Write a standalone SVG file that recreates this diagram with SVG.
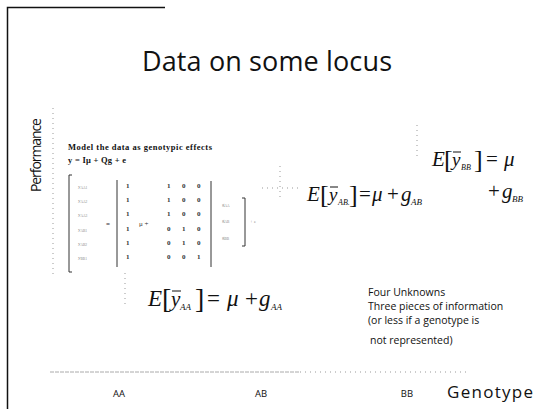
<svg xmlns="http://www.w3.org/2000/svg" width="536" height="409" viewBox="0 0 536 409">
<style>
.sans{font-family:"Open Sans","Liberation Sans",sans-serif;fill:#111}
.serif{font-family:"Liberation Serif","DejaVu Serif",serif;fill:#111}
.it{font-style:italic}
.mat{font-family:"Liberation Serif",serif;font-size:7px;fill:#333;font-weight:bold}
.tiny{font-family:"Liberation Serif",serif;font-size:5px;fill:#888}
.dots{stroke:#999;stroke-width:1;stroke-dasharray:1 4;fill:none}
.brk{stroke:#333;stroke-width:1;fill:none}
.ovl{stroke:#111;stroke-width:1}
</style>
<rect width="536" height="409" fill="#fff"/>
<g id="connectors">
  <path d="M7.5,409 V7.5 H165" stroke="#111" stroke-width="1.5" fill="none"/>
  <line class="dots" x1="53" y1="108" x2="53" y2="276"/>
  <line x1="50" y1="372" x2="300" y2="372" stroke="#aaa" stroke-width="1" stroke-dasharray="4 1"/>
  <line class="dots" x1="300" y1="372" x2="467" y2="372"/>
  <line class="dots" x1="280" y1="166" x2="280" y2="200"/>
  <line class="dots" x1="262" y1="188" x2="300" y2="188"/>
  <line class="dots" x1="417" y1="125" x2="417" y2="158"/>
  <line class="dots" x1="125" y1="273" x2="125" y2="308"/>
</g>
<g id="title"><text class="sans" x="267" y="71" font-size="27" text-anchor="middle" textLength="250">Data on some locus</text></g>
<g id="y-label"><text class="sans" transform="translate(41,192) rotate(-90)" font-size="14" textLength="74">Performance</text></g>
<g id="model">
  <text class="serif" x="68" y="150" font-size="8.5" font-weight="bold" textLength="144">Model the data as genotypic effects</text>
  <text class="serif" x="68" y="163" font-size="8.5" font-weight="bold" textLength="58">y = Iμ + Qg + e</text>
  <path class="brk" d="M72,175 H69 V272 H72"/>
  <g class="tiny">
    <text x="78" y="188">y<tspan font-size="3.5" dy="1">AA1</tspan></text>
    <text x="78" y="202">y<tspan font-size="3.5" dy="1">AA2</tspan></text>
    <text x="78" y="216">y<tspan font-size="3.5" dy="1">AA3</tspan></text>
    <text x="78" y="231">y<tspan font-size="3.5" dy="1">AB1</tspan></text>
    <text x="78" y="245">y<tspan font-size="3.5" dy="1">AB2</tspan></text>
    <text x="78" y="259">y<tspan font-size="3.5" dy="1">BB1</tspan></text>
  </g>
  <text class="mat" x="106" y="226">=</text>
  <line class="brk" x1="117" y1="180" x2="117" y2="267"/>
  <g class="mat">
    <text x="126" y="188">1</text><text x="126" y="202">1</text><text x="126" y="216">1</text>
    <text x="126" y="231">1</text><text x="126" y="245">1</text><text x="126" y="259">1</text>
    <text x="139" y="226" font-weight="normal">μ +</text>
    <text x="167" y="188">1</text><text x="182" y="188">0</text><text x="197" y="188">0</text>
    <text x="167" y="202">1</text><text x="182" y="202">0</text><text x="197" y="202">0</text>
    <text x="167" y="216">1</text><text x="182" y="216">0</text><text x="197" y="216">0</text>
    <text x="167" y="231">0</text><text x="182" y="231">1</text><text x="197" y="231">0</text>
    <text x="167" y="245">0</text><text x="182" y="245">1</text><text x="197" y="245">0</text>
    <text x="167" y="259">0</text><text x="182" y="259">0</text><text x="197" y="259">1</text>
  </g>
  <line class="brk" x1="211" y1="181" x2="211" y2="267"/>
  <g class="tiny">
    <text x="222" y="206">g<tspan font-size="3.5" dy="1">AA</tspan></text>
    <text x="222" y="222">g<tspan font-size="3.5" dy="1">AB</tspan></text>
    <text x="222" y="239">g<tspan font-size="3.5" dy="1">BB</tspan></text>
    <text x="250" y="223">+ e</text>
  </g>
  <path class="brk" d="M242,198 H245 V246 H242"/>
</g>
<g id="eq-AB">
  <text class="serif it" x="307" y="201" font-size="21">E</text>
  <text class="serif" x="320" y="203" font-size="26">[</text>
  <text class="serif it" x="329" y="201" font-size="19">y</text>
  <line class="ovl" x1="330" y1="187" x2="338" y2="187"/>
  <text class="serif it" x="338" y="205" font-size="8">AB.</text>
  <text class="serif" x="349" y="203" font-size="26">]</text>
  <text class="serif" x="359" y="201" font-size="21">=</text>
  <text class="serif it" x="372" y="201" font-size="21">μ</text>
  <text class="serif" x="387" y="201" font-size="21">+</text>
  <text class="serif it" x="401" y="201" font-size="21">g</text>
  <text class="serif it" x="411" y="205" font-size="9">AB</text>
</g>
<g id="eq-BB">
  <text class="serif it" x="432" y="166" font-size="21">E</text>
  <text class="serif" x="444" y="168" font-size="26">[</text>
  <text class="serif it" x="452" y="166" font-size="19">y</text>
  <line class="ovl" x1="453" y1="152" x2="461" y2="152"/>
  <text class="serif it" x="461" y="170" font-size="8">BB</text>
  <text class="serif" x="474" y="168" font-size="26">]</text>
  <text class="serif" x="486" y="166" font-size="21">=</text>
  <text class="serif it" x="504" y="166" font-size="21">μ</text>
  <text class="serif" x="488" y="198" font-size="21">+</text>
  <text class="serif it" x="502" y="198" font-size="21">g</text>
  <text class="serif it" x="512" y="202" font-size="9">BB</text>
</g>
<g id="eq-AA">
  <text class="serif it" x="148" y="306" font-size="23">E</text>
  <text class="serif" x="162" y="308" font-size="28">[</text>
  <text class="serif it" x="171" y="306" font-size="21">y</text>
  <line class="ovl" x1="172" y1="291" x2="181" y2="291"/>
  <text class="serif it" x="180" y="310" font-size="9">AA</text>
  <text class="serif" x="195" y="308" font-size="28">]</text>
  <text class="serif" x="207" y="306" font-size="23">=</text>
  <text class="serif it" x="227" y="306" font-size="23">μ</text>
  <text class="serif" x="245" y="306" font-size="23">+</text>
  <text class="serif it" x="259" y="306" font-size="23">g</text>
  <text class="serif it" x="271" y="310" font-size="9">AA</text>
</g>
<g id="note" class="sans" font-size="10.5">
  <text x="368" y="296">Four Unknowns</text>
  <text x="368" y="310">Three pieces of information</text>
  <text x="368" y="324">(or less if a genotype is</text>
  <text x="370" y="344">not represented)</text>
</g>
<g id="x-labels" class="sans">
  <text x="119" y="397" font-size="9.5" text-anchor="middle">AA</text>
  <text x="261" y="397" font-size="9.5" text-anchor="middle">AB</text>
  <text x="407" y="397" font-size="9.5" text-anchor="middle">BB</text>
  <text x="447" y="398" font-size="17" textLength="86">Genotype</text>
</g>
</svg>
